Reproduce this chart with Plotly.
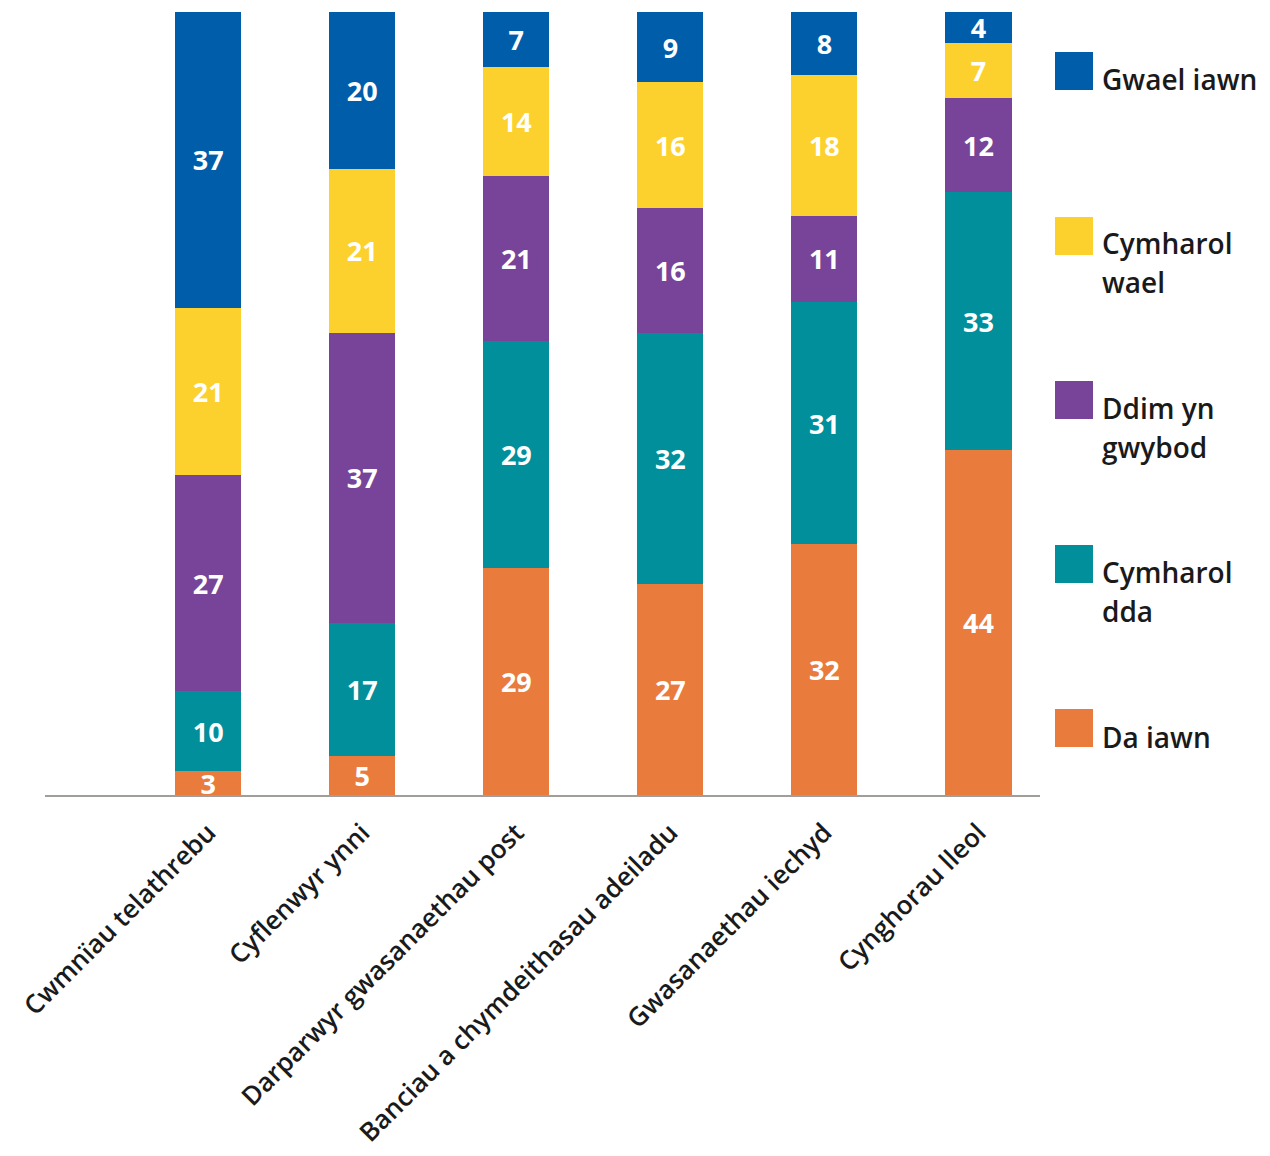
import plotly.graph_objects as go

categories = ["Cwmnïau telathrebu", "Cyflenwyr ynni", "Darparwyr gwasanaethau post",
              "Banciau a chymdeithasau adeiladu", "Gwasanaethau iechyd", "Cynghorau lleol"]
series_names = ["Da iawn", "Cymharol dda", "Ddim yn gwybod", "Cymharol wael", "Gwael iawn"]
da_iawn = [3, 5, 29, 27, 32, 44]
cymharol_dda = [10, 17, 29, 32, 31, 33]
ddim_yn_gwybod = [27, 37, 21, 16, 11, 12]
cymharol_wael = [21, 21, 14, 16, 18, 7]
gwael_iawn = [37, 20, 7, 9, 8, 4]
series_values = [da_iawn, cymharol_dda, ddim_yn_gwybod, cymharol_wael, gwael_iawn]
colors = ["#E97B3D", "#008F9B", "#774499", "#FDD12D", "#005DAA"]
legend_lines = [["Da iawn"], ["Cymharol", "dda"], ["Ddim yn", "gwybod"], ["Cymharol", "wael"], ["Gwael iawn"]]

FONT = "Open Sans"
W, H = 1270, 1156
ML, MR, MT, MB = 45, 230, 12, 361

fig = go.Figure()
for name, vals, col in zip(series_names, series_values, colors):
    fig.add_trace(go.Bar(
        x=categories, y=vals, name=name, marker=dict(color=col, line=dict(width=0)),
        text=[str(v) for v in vals], textposition="inside", insidetextanchor="middle",
        constraintext="none", textangle=0,
        textfont=dict(family=FONT, size=27, color="white", weight=700),
        width=0.43, showlegend=False, hoverinfo="skip", cliponaxis=False,
    ))

pw = W - ML - MR
ph = H - MT - MB
def px_x(x):
    return (x - ML) / pw
def px_y(y):
    return (H - MB - y) / ph

# manual legend (top to bottom)
leg_tops = [709, 545, 381, 217, 52]
leg_first_line = [737, 572, 408, 243, 79]
LINE_GAP = 39
shapes = []
annotations = []
for lines, col, top, l0 in zip(legend_lines, colors, leg_tops, leg_first_line):
    shapes.append(dict(type="rect", xref="paper", yref="paper",
                       x0=px_x(1055), x1=px_x(1093), y0=px_y(top + 38), y1=px_y(top),
                       fillcolor=col, line=dict(width=0)))
    for i, ln in enumerate(lines):
        annotations.append(dict(xref="paper", yref="paper", x=px_x(1100), y=px_y(l0 + i * LINE_GAP),
                                xanchor="left", yanchor="middle", align="left", showarrow=False,
                                text=ln, font=dict(family=FONT, size=28, color="#1a1a1a", weight=600)))

fig.update_layout(
    width=W, height=H, barmode="stack", barnorm="percent",
    margin=dict(l=ML, r=MR, t=MT, b=MB, autoexpand=False),
    plot_bgcolor="white", paper_bgcolor="white",
    shapes=shapes, annotations=annotations,
    xaxis=dict(range=[-1.06, 5.4], showline=True, linecolor="#A39D99", linewidth=2,
               tickangle=-45, ticks="", ticklabelstandoff=10, automargin=False,
               tickfont=dict(family=FONT, size=26, color="#1a1a1a", weight=600),
               showgrid=False, zeroline=False),
    yaxis=dict(range=[0, 100], visible=False, showgrid=False, zeroline=False, automargin=False),
)

fig.write_html("out.html")
